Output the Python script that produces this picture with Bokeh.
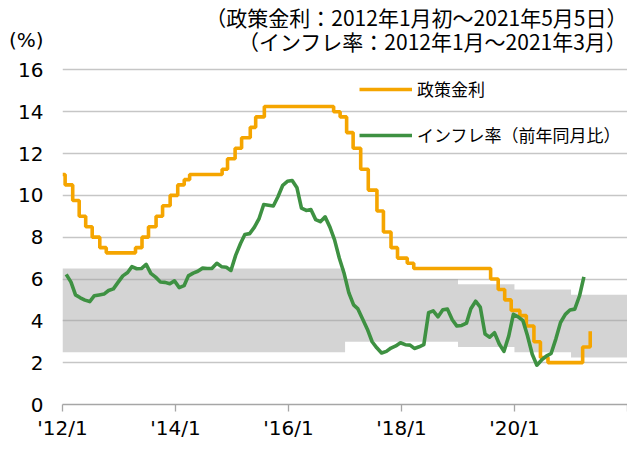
import pandas as pd
from bokeh.plotting import figure
from bokeh.models import Range1d, FixedTicker, Label, Legend, LegendItem
from bokeh.embed import file_html
from bokeh.resources import INLINE

# ---- data ----
policy_dates = ["2012-01-01", "2012-01-18", "2012-03-07", "2012-04-18", "2012-05-30",
                "2012-07-11", "2012-08-29", "2012-10-10", "2013-04-17", "2013-05-29",
                "2013-07-10", "2013-08-28", "2013-10-09", "2013-11-27", "2014-01-15",
                "2014-02-26", "2014-04-02", "2014-10-29", "2014-12-03", "2015-01-21",
                "2015-03-04", "2015-04-29", "2015-06-03", "2015-07-29", "2016-10-19",
                "2016-11-30", "2017-01-11", "2017-02-22", "2017-04-12", "2017-05-31",
                "2017-07-26", "2017-09-06", "2017-10-25", "2017-12-06", "2018-02-07",
                "2018-03-21", "2019-07-31", "2019-09-18", "2019-10-30", "2019-12-11",
                "2020-02-05", "2020-03-18", "2020-05-06", "2020-06-17", "2020-08-05",
                "2021-03-17", "2021-05-05"]
policy_rate = [11.00, 10.50, 9.75, 9.00, 8.50,
               8.00, 7.50, 7.25, 7.50, 8.00,
               8.50, 9.00, 9.50, 10.00, 10.50,
               10.75, 11.00, 11.25, 11.75, 12.25,
               12.75, 13.25, 13.75, 14.25, 14.00,
               13.75, 13.00, 12.25, 11.25, 10.25,
               9.25, 8.25, 7.50, 7.00, 6.75,
               6.50, 6.00, 5.50, 5.00, 4.50,
               4.25, 3.75, 3.00, 2.25, 2.00,
               2.75, 3.50]

inflation_first_month = "2012-01"
inflation_last_month = "2021-03"
inflation = [6.22, 5.85, 5.24, 5.10, 4.99, 4.92, 5.20, 5.24, 5.28, 5.45, 5.53, 5.84,
             6.15, 6.31, 6.59, 6.49, 6.50, 6.70, 6.27, 6.09, 5.86, 5.84, 5.77, 5.91,
             5.59, 5.68, 6.15, 6.28, 6.37, 6.52, 6.50, 6.51, 6.75, 6.59, 6.56, 6.41,
             7.14, 7.70, 8.13, 8.17, 8.47, 8.89, 9.56, 9.53, 9.49, 9.93, 10.48, 10.67,
             10.71, 10.36, 9.39, 9.28, 9.32, 8.84, 8.74, 8.97, 8.48, 7.87, 6.99, 6.29,
             5.35, 4.76, 4.57, 4.08, 3.60, 3.00, 2.71, 2.46, 2.54, 2.70, 2.80, 2.95,
             2.86, 2.84, 2.68, 2.76, 2.86, 4.39, 4.48, 4.19, 4.53, 4.56, 4.05, 3.75,
             3.78, 3.89, 4.58, 4.94, 4.66, 3.37, 3.22, 3.43, 2.89, 2.54, 3.27, 4.31,
             4.19, 4.01, 3.30, 2.40, 1.88, 2.13, 2.31, 2.44, 3.14, 3.92, 4.31, 4.52,
             4.56, 5.20, 6.10]

band_starts = ["2012-01-01", "2017-01-01", "2019-01-01", "2020-01-01", "2021-01-01", "2022-01-01"]
band_low = [2.50, 3.00, 2.75, 2.50, 2.25, 2.25]
band_high = [6.50, 6.00, 5.75, 5.50, 5.25, 5.25]

x_ticks = ["2012-01-01", "2014-01-01", "2016-01-01", "2018-01-01", "2020-01-01", "2022-01-01"]
x_tick_labels = ["'12/1", "'14/1", "'16/1", "'18/1", "'20/1", ""]
y_ticks = [0, 2, 4, 6, 8, 10, 12, 14, 16]
y_max_tick = 16

title_line1 = "（政策金利：2012年1月初～2021年5月5日）"
title_line2 = "（インフレ率：2012年1月～2021年3月）"
unit_label = "(%)"
legend_labels = ["政策金利", "インフレ率（前年同月比）"]

# ---- layout constants (pixels) ----
W, H = 627, 442
FRAME_LEFT, FRAME_TOP, FRAME_BOTTOM = 62, 4, 408   # frame in canvas px
Y16_PX = 70                                         # where value 16 sits
UNIT_PX = 40                                        # where "(%)" sits
px_per_unit = (FRAME_BOTTOM - Y16_PX) / y_max_tick
y_top = (FRAME_BOTTOM - FRAME_TOP) / px_per_unit
unit_tick = (FRAME_BOTTOM - UNIT_PX) / px_per_unit

# ---- derived ----
policy_x = pd.to_datetime(policy_dates)
infl_x = pd.period_range(inflation_first_month, inflation_last_month, freq="M").to_timestamp() + pd.Timedelta(days=24)
band_x = pd.to_datetime(band_starts)
tick_ms = [float(pd.Timestamp(t).value // 10**6) for t in x_ticks]

ORANGE = "#F5A500"
GREEN = "#3E9142"
NUM_FONT = "DejaVu Sans"
JP_FONT = "Noto Sans CJK JP"

p = figure(width=W, height=H, x_axis_type="datetime",
           x_range=Range1d(pd.Timestamp(x_ticks[0]), pd.Timestamp(x_ticks[-1])),
           y_range=Range1d(0, y_top),
           output_backend="svg", toolbar_location=None,
           min_border_left=FRAME_LEFT, min_border_right=0,
           min_border_top=FRAME_TOP, min_border_bottom=H - FRAME_BOTTOM)
p.outline_line_color = None
p.background_fill_color = "white"

band = p.varea_step(x=band_x, y1=band_low, y2=band_high, step_mode="after",
                    fill_color="#a0a0a0", fill_alpha=0.45)

r_pol = p.step(x=policy_x, y=policy_rate, mode="after", line_color=ORANGE, line_width=3.6)
r_inf = p.line(x=infl_x, y=inflation, line_color=GREEN, line_width=3.6, line_join="round")

# x axis
p.xaxis.ticker = FixedTicker(ticks=tick_ms)
p.xaxis.major_label_overrides = dict(zip(tick_ms, x_tick_labels))
p.xaxis.axis_line_color = "#a6a6a6"
p.xaxis.axis_line_width = 1.3
p.xaxis.major_tick_line_color = "#a6a6a6"
p.xaxis.major_tick_line_width = 1.3
p.xaxis.major_tick_in = 0
p.xaxis.major_tick_out = 7
p.xaxis.minor_tick_line_color = None
p.xaxis.minor_tick_out = 0
p.xaxis.major_label_standoff = 4
p.xaxis.major_label_text_font = NUM_FONT
p.xaxis.major_label_text_font_size = "20px"
p.xaxis.major_label_text_color = "#000000"
p.xgrid.grid_line_color = None

# y axis (with the unit shown as the topmost label)
p.yaxis.ticker = FixedTicker(ticks=y_ticks + [unit_tick])
p.yaxis.major_label_overrides = {unit_tick: unit_label}
p.yaxis.axis_line_color = None
p.yaxis.major_tick_line_color = None
p.yaxis.minor_tick_line_color = None
p.yaxis.major_tick_in = 0
p.yaxis.major_tick_out = 0
p.yaxis.minor_tick_out = 0
p.yaxis.major_label_standoff = 19
p.yaxis.major_label_text_font = NUM_FONT
p.yaxis.major_label_text_font_size = "20px"
p.yaxis.major_label_text_color = "#000000"
p.ygrid.ticker = FixedTicker(ticks=y_ticks[1:])
p.ygrid.grid_line_color = "#c6c6c6"
p.ygrid.grid_line_width = 1.3

# legend
legend = Legend(items=[LegendItem(label=legend_labels[0], renderers=[r_pol]),
                       LegendItem(label=legend_labels[1], renderers=[r_inf])],
                location=(297, 257), orientation="vertical",
                glyph_width=53, glyph_height=20, label_height=20, label_standoff=5,
                spacing=21, padding=0, margin=0,
                border_line_color=None, background_fill_alpha=0,
                label_text_font=JP_FONT, label_text_font_size="17px",
                label_text_color="#000000")
p.add_layout(legend)

# header texts (inside the frame area above the value axis)
p.add_layout(Label(x=W - FRAME_LEFT, y=FRAME_BOTTOM - 20, x_units="screen", y_units="screen",
                   text=title_line1, text_font=JP_FONT, text_font_size="21px",
                   text_baseline="middle", text_align="right", text_color="#000000"))
p.add_layout(Label(x=W - FRAME_LEFT, y=FRAME_BOTTOM - 44, x_units="screen", y_units="screen",
                   text=title_line2, text_font=JP_FONT, text_font_size="21px",
                   text_baseline="middle", text_align="right", text_color="#000000"))

open("out.html", "w").write(file_html(p, INLINE))
